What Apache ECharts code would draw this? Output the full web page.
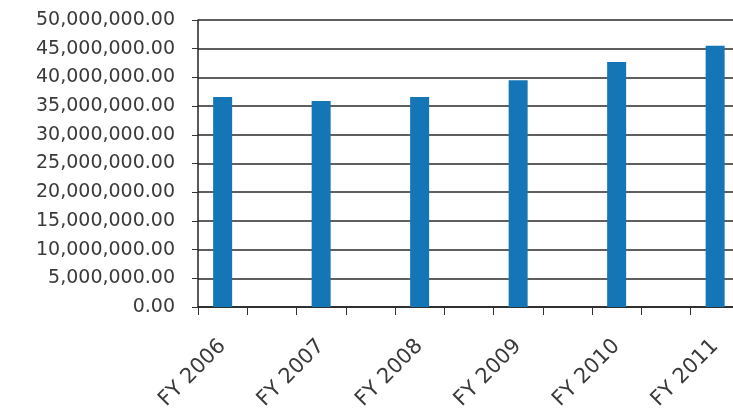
<!DOCTYPE html>
<html>
<head>
<meta charset="utf-8">
<script src="https://cdn.jsdelivr.net/npm/echarts@6/dist/echarts.min.js"></script>
<style>
  html, body { margin: 0; padding: 0; background: #fff; }
  #chart-container { width: 733px; height: 418px; }
</style>
</head>
<body>
<div id="chart-container"></div>
<script>
// fiscal years on the x axis
var categories = ['FY 2006', 'FY 2007', 'FY 2008', 'FY 2009', 'FY 2010', 'FY 2011'];
// amounts
var amounts = [36600000, 35900000, 36600000, 39500000, 42700000, 45500000];
// second slot in each year is empty in the picture
var emptySlot = [];
var yTicks = { min: 0, max: 50000000, interval: 5000000 };

var labelFont = 'DejaVu Sans';

// half-year slots: the bar sits in the first half of each year
var halfSlots = [];
categories.forEach(function (c) {
    halfSlots.push(c);
    halfSlots.push('');
});

var fmt = function (v) {
    return Number(v).toLocaleString('en-US', { minimumFractionDigits: 2, maximumFractionDigits: 2 });
};

var myChart = echarts.init(document.getElementById('chart-container'));
var option = {
    backgroundColor: '#ffffff',
    animation: false,
    // plot runs past the right edge of the picture
    grid: { left: 198, top: 20, width: 591, height: 287, containLabel: false, outerBoundsMode: 'none' },
    xAxis: [{
        type: 'category',
        data: categories,
        axisLine: { show: true, lineStyle: { color: '#222', width: 1.5 } },
        axisTick: { show: false },
        axisLabel: { show: false }
    }, {
        type: 'category',
        data: halfSlots,
        position: 'bottom',
        axisLine: { show: false },
        axisTick: { show: true, length: 8, interval: 0, lineStyle: { color: '#333', width: 1 } },
        axisLabel: {
            interval: 0,
            rotate: 45,
            margin: 36,
            fontFamily: labelFont,
            fontSize: 21,
            color: '#3a3a3a'
        }
    }],
    yAxis: {
        type: 'value',
        min: yTicks.min,
        max: yTicks.max,
        interval: yTicks.interval,
        axisLine: { show: true, lineStyle: { color: '#222', width: 1.5 } },
        axisTick: { show: true, length: 6, lineStyle: { color: '#333' } },
        splitLine: { show: true, lineStyle: { color: '#2a2a2a', width: 1.5 } },
        axisLabel: {
            margin: 23,
            fontFamily: labelFont,
            fontSize: 19,
            color: '#3a3a3a',
            formatter: fmt
        }
    },
    series: [{
        name: 'Amount',
        type: 'bar',
        xAxisIndex: 0,
        data: amounts,
        barWidth: 19,
        barGap: '159%',
        itemStyle: { color: '#1476b6' }
    }, {
        name: 'Other',
        type: 'bar',
        xAxisIndex: 0,
        data: emptySlot,
        barWidth: 19,
        itemStyle: { color: '#888' }
    }]
};
myChart.setOption(option);
</script>
</body>
</html>
